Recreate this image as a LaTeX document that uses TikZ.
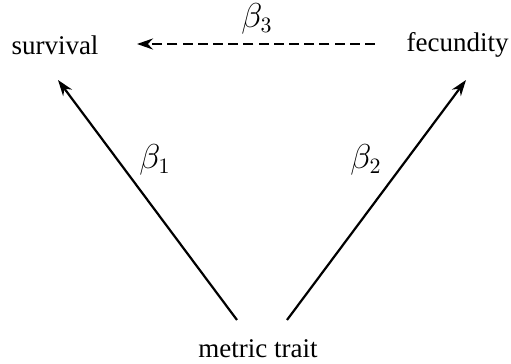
\documentclass[tikz,border=0pt]{standalone}
\usepackage{fontspec}
\setmainfont{Liberation Serif}
\usetikzlibrary{arrows.meta}
\begin{document}
\begin{tikzpicture}[x=0.5pt,y=-0.5pt,
  lbl/.style={font=\fontsize{13.5}{16}\selectfont, inner sep=0pt},
  coef/.style={font=\fontsize{16}{18}\selectfont, inner sep=0pt},
  arr/.style={line width=1.1pt, -{Stealth[length=8pt,width=5.5pt]}},
  darr/.style={arr, line width=1.4pt, dash pattern=on 5pt off 2.6pt}]
\useasboundingbox (0,0) rectangle (511,364);
\node[lbl] (surv) at (55,45) {survival};
\node[lbl,anchor=east] (fec) at (509,45) {fecundity};
\node[lbl] (met) at (258,349) {metric trait};
\coordinate (ml) at (237,320);
\coordinate (mr) at (287,320);
\coordinate (sl) at (58,80);
\coordinate (fr) at (466,80);
\coordinate (ds) at (375,44);
\coordinate (de) at (137,44);
\draw[arr] (ml) -- (sl);
\draw[arr] (mr) -- (fr);
\draw[darr] (ds) -- (de);
\node[coef] (b3) at (257,19) {$\beta_3$};
\node[coef] (b1) at (155,160) {$\beta_1$};
\node[coef] (b2) at (366,160) {$\beta_2$};
\end{tikzpicture}
\end{document}
